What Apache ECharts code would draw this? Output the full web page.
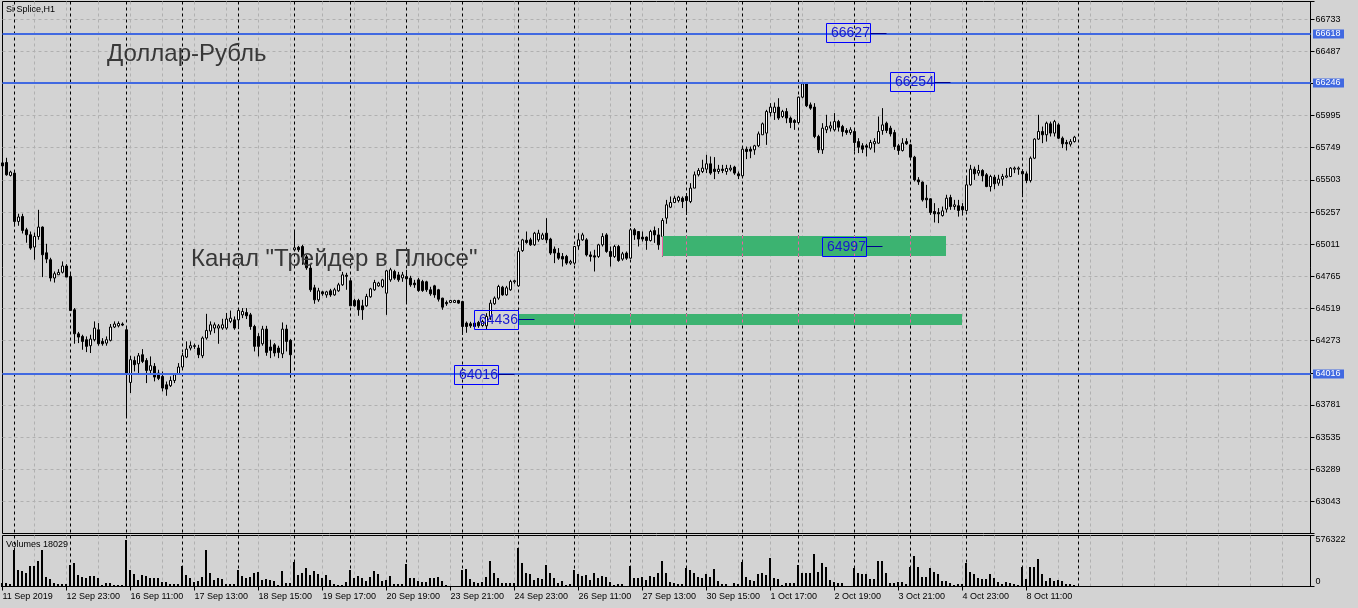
<!DOCTYPE html>
<html>
<head>
<meta charset="utf-8">
<title>Si Splice,H1</title>
<script src="https://cdn.jsdelivr.net/npm/echarts@6.0.0/dist/echarts.min.js"></script>
<style>
html,body{margin:0;padding:0;background:#d3d3d3;overflow:hidden;}
#chart{width:1358px;height:608px;}
</style>
</head>
<body>
<div id="chart"></div>
<script>
// ---------------- data ----------------
const sessionDays = ['11 Sep','12 Sep','13 Sep','16 Sep','17 Sep','18 Sep','19 Sep','20 Sep','23 Sep','24 Sep','25 Sep',
  '26 Sep','27 Sep','30 Sep','1 Oct','2 Oct','3 Oct','4 Oct','7 Oct','8 Oct','9 Oct','10 Oct','11 Oct','14 Oct','15 Oct'];
const firstSessionHours = [21,22,23];
const sessionHours = [10,11,12,13,14,15,16,17,18,19,20,21,22,23];
const firstDateLabel = '11 Sep 2019';

// [open, close, low, high]
const ohlc = [
[65633,65610,65603,65641],[65636,65542,65535,65672],[65537,65563,65529,65573],[65555,65185,65147,65560],
[65185,65219,65152,65244],[65223,65116,65093,65244],[65121,65083,65022,65136],[65083,64981,64968,65108],
[64989,65070,64892,65100],[65070,65142,65045,65274],[65142,64930,64759,65147],[64945,64897,64866,65014],
[64892,64752,64726,64907],[64752,64785,64717,64802],[64777,64795,64777,64820],[64796,64844,64787,64879],
[64844,64759,64759,64858],[64764,64503,64503,64782],[64509,64325,64249,64522],[64325,64300,64254,64340],
[64305,64267,64203,64318],[64280,64229,64185,64305],[64234,64285,64178,64318],[64280,64369,64267,64420],
[64356,64249,64234,64407],[64267,64249,64234,64292],[64254,64280,64234,64305],[64275,64377,64267,64400],
[64377,64400,64369,64420],[64386,64404,64374,64420],[64400,64392,64384,64412],[64356,64024,63682,64369],
[63953,64127,63872,64157],[64121,64089,64037,64152],[64096,64157,64024,64178],[64165,64114,64101,64208],
[64121,64045,63948,64139],[64045,64081,64024,64152],[64076,63994,63961,64101],[64024,63984,63971,64050],
[63999,63910,63884,64037],[63935,63902,63851,63960],[63928,63968,63918,63999],[63968,64012,63948,64024],
[64019,64071,64012,64101],[64071,64157,64050,64178],[64147,64208,64139,64267],[64216,64234,64198,64267],
[64234,64229,64210,64250],[64216,64165,64139,64241],[64157,64293,64139,64305],[64293,64351,64280,64478],
[64346,64394,64318,64420],[64369,64394,64330,64412],[64369,64386,64249,64400],[64369,64394,64356,64440],
[64369,64438,64356,64485],[64420,64445,64407,64503],[64432,64369,64356,64458],[64432,64503,64361,64522],
[64470,64496,64445,64522],[64488,64463,64438,64522],[64470,64381,64356,64485],[64381,64229,64190,64394],
[64305,64229,64152,64330],[64249,64361,64234,64386],[64361,64183,64157,64386],[64224,64198,64139,64280],
[64241,64178,64152,64254],[64216,64183,64139,64234],[64172,64361,64139,64412],[64361,64267,64190,64394],
[64275,64165,63989,64285],[64968,64983,64955,65121],[64987,64968,64952,64998],[64993,64912,64853,65006],
[64914,64830,64815,64929],[64828,64662,64646,64853],[64677,64585,64555,64700],[64585,64654,64570,64677],
[64646,64631,64616,64654],[64623,64646,64601,64654],[64654,64623,64608,64669],[64623,64662,64616,64677],
[64654,64700,64646,64715],[64700,64776,64692,64799],[64773,64765,64662,64792],[64731,64539,64539,64738],
[64580,64539,64532,64593],[64580,64509,64463,64593],[64539,64509,64432,64585],[64539,64611,64532,64631],
[64608,64669,64601,64677],[64662,64718,64654,64738],[64692,64713,64685,64723],[64687,64738,64677,64746],
[64636,64807,64470,64815],[64738,64815,64723,64830],[64802,64751,64738,64815],[64776,64738,64723,64799],
[64753,64776,64723,64799],[64763,64746,64562,64815],[64751,64700,64685,64769],[64713,64700,64677,64738],
[64738,64656,64646,64753],[64725,64656,64646,64738],[64723,64662,64646,64731],[64662,64631,64616,64685],
[64692,64623,64601,64700],[64662,64590,64572,64669],[64598,64529,64509,64601],[64565,64555,64539,64580],
[64565,64580,64562,64585],[64565,64580,64562,64585],[64580,64560,64555,64585],[64572,64381,64317,64578],
[64407,64381,64333,64419],[64402,64386,64371,64417],[64407,64381,64379,64417],[64412,64386,64371,64424],
[64389,64419,64379,64432],[64386,64458,64356,64483],[64458,64560,64432,64585],[64555,64598,64547,64611],
[64598,64687,64585,64700],[64682,64623,64616,64692],[64623,64677,64616,64692],[64662,64725,64654,64738],
[64723,64731,64708,64738],[64692,64955,64685,64968],[64962,65044,64952,65052],[65041,65024,65014,65108],
[65044,65006,64998,65060],[65006,65095,64998,65105],[65044,65095,65029,65121],[65050,65082,65044,65098],
[65095,65044,65019,65210],[65050,64943,64929,65060],[64973,64943,64866,64993],[64943,64904,64891,64981],
[64917,64897,64840,64943],[64917,64866,64853,64929],[64866,64878,64853,64891],[64866,64993,64853,64993],
[64998,65044,64968,65095],[65044,65082,65037,65098],[65044,64929,64917,65057],[64929,64917,64878,64955],
[64922,64912,64802,64968],[64917,65006,64906,65014],[65006,65070,64993,65095],[65082,64955,64945,65095],
[64955,64917,64840,64993],[64917,64993,64906,65006],[64993,64886,64876,65006],[64897,64937,64884,64952],
[64943,64904,64891,64955],[64904,65121,64899,65134],[65121,65082,65044,65134],[65108,65050,64993,65108],
[65065,65050,65031,65108],[65065,65039,64968,65070],[65039,65108,65031,65121],[65115,65082,65021,65146],
[65082,65006,64968,65134],[65070,65192,64917,65210],[65210,65312,65167,65350],[65294,65330,65287,65376],
[65330,65363,65325,65381],[65345,65371,65330,65381],[65363,65337,65287,65376],[65376,65345,65235,65402],
[65337,65440,65325,65478],[65440,65542,65440,65567],[65542,65575,65529,65593],[65567,65593,65555,65657],
[65585,65626,65555,65695],[65626,65555,65542,65682],[65585,65567,65509,65677],[65567,65585,65549,65618],
[65585,65575,65555,65618],[65567,65590,65542,65618],[65580,65593,65567,65618],[65601,65555,65542,65611],
[65549,65534,65509,65567],[65534,65738,65529,65746],[65738,65720,65662,65758],[65738,65723,65669,65758],
[65733,65764,65695,65771],[65764,65855,65754,65873],[65848,65932,65848,65942],[65861,66026,65771,66039],
[66018,66060,65988,66090],[66018,66060,65962,66095],[66060,65976,65962,66128],[65988,66026,65976,66039],
[66026,65976,65937,66052],[65976,65942,65899,65988],[65957,65942,65886,65968],[65942,66136,65937,66141],
[66136,66238,66128,66243],[66238,66070,66060,66243],[66077,66052,66039,66095],[66060,65835,65822,66090],
[65835,65733,65708,65848],[65733,65899,65702,65937],[65886,65911,65861,66001],[65899,65917,65873,65949],
[65886,65949,65873,66014],[65949,65906,65873,65962],[65911,65873,65835,65924],[65881,65865,65848,65899],
[65865,65886,65848,65906],[65873,65789,65720,65886],[65796,65753,65708,65822],[65764,65738,65708,65784],
[65764,65753,65682,65779],[65746,65789,65733,65809],[65779,65796,65712,65822],[65784,65873,65779,65988],
[65881,65924,65848,66052],[65937,65881,65861,65949],[65899,65855,65835,65917],[65865,65758,65733,65886],
[65764,65728,65695,65779],[65728,65784,65720,65822],[65796,65779,65771,65822],[65771,65677,65669,65779],
[65677,65503,65491,65687],[65503,65488,65465,65524],[65486,65350,65337,65491],[65363,65350,65287,65465],
[65358,65253,65235,65363],[65261,65243,65177,65325],[65253,65243,65172,65287],[65230,65266,65222,65299],
[65279,65363,65253,65389],[65368,65299,65274,65389],[65299,65312,65274,65350],[65305,65269,65222,65350],
[65299,65274,65230,65325],[65269,65465,65261,65534],[65465,65585,65458,65618],[65585,65549,65503,65605],
[65555,65575,65534,65618],[65575,65534,65491,65585],[65542,65452,65447,65555],[65452,65529,65414,65542],
[65524,65473,65432,65542],[65478,65509,65458,65542],[65509,65529,65458,65549],[65524,65534,65516,65593],
[65529,65593,65524,65601],[65585,65593,65555,65605],[65585,65593,65542,65605],[65567,65549,65371,65585],
[65549,65498,65478,65567],[65498,65669,65483,65682],[65669,65815,65662,65822],[65815,65873,65809,66001],
[65873,65848,65784,65911],[65848,65937,65796,65949],[65932,65861,65835,65949],[65861,65949,65835,65962],
[65924,65822,65815,65937],[65822,65779,65746,65835],[65789,65779,65728,65809],[65776,65796,65758,65815],
[65796,65830,65789,65840]
];

const volumes = [
38000,45200,26400,414400,188400,180800,150700,233600,233600,290100,
414400,113000,86600,45200,30100,30100,30100,244900,271200,131800,
113000,101700,120500,120500,101700,18800,45200,37700,18800,18800,
18800,527400,188400,139400,75300,131800,120500,101700,101700,101700,
56500,56500,26400,26400,26400,233600,131800,94200,56500,67800,
113000,414400,150700,75300,94200,82900,30100,30100,30100,188400,
120500,94200,113000,150700,165700,75300,90400,75300,67800,18800,
177000,37700,37700,282500,131800,150700,207200,131800,177000,139400,
94200,131800,75300,30100,18800,18800,52700,188400,94200,120500,
94200,67800,113000,177000,139400,67800,75300,120500,26400,26400,
26400,256200,94200,94200,67800,56500,56500,101700,94200,109200,
64000,18800,7500,7500,7500,188400,199700,86600,56500,45200,
56500,113000,290100,158200,101700,37700,45200,37700,45200,433200,
271200,158200,143100,75300,94200,86600,244900,158200,94200,37700,
67800,18800,26400,188400,143100,124300,131800,75300,158200,94200,
120500,105500,56500,18800,30100,26400,11300,233600,101700,101700,
113000,75300,124300,105500,158200,293800,158200,49000,37700,30100,
30100,214700,188400,158200,105500,101700,143100,113000,199700,64000,
30100,30100,11300,45200,26400,275000,113000,75300,67800,143100,
158200,131800,327700,94200,86600,18800,37700,37700,37700,244900,
158200,150700,150700,369200,169500,271200,226000,75300,49000,45200,
37700,11300,11300,214700,150700,143100,143100,86600,86600,290100,
290100,158200,45200,37700,49000,56500,30100,226000,346600,218500,
113000,105500,207200,162000,139400,64000,64000,45200,18800,26400,
30100,271200,162000,139400,94200,82900,86600,143100,94200,49000,
30100,49000,37700,30100,18800,226000,86600,218500,218500,308900,
143100,67800,94200,64000,75300,64000,30100,30100,18029
];

const priceTickLabels = [63043,63289,63535,63781,64273,64519,64765,65011,65257,65503,65749,65995,66487,66733];
const priceAxisMin = 62797, priceAxisMax = 66868, priceStep = 246;
const volumeAxisMax = 576322;

const separatorBars = [3,17,31,45,59,73,87,101,115,129,143,157,171,185,199,213,227,241,255,269];
const levelPrices = [66618, 66246, 64016];
const tagPrices = [66627, 66254, 64997, 64436, 64016];
const tagBars = [217, 233, 216, 129, 124];
const zoneBars = [[165, 236], [129, 240]];
const zonePrices = [[64922, 65070], [64396, 64478]];

const titleText = 'Si Splice,H1';
const volumeText = 'Volumes 18029';
const noteTexts = ['Доллар-Рубль', 'Канал "Трейдер в Плюсе"'];

// ---------------- chart ----------------
const TOTAL_SLOTS = 328;
const categories = [];
sessionDays.forEach((d, k) => {
  (k === 0 ? firstSessionHours : sessionHours).forEach(h => categories.push(d + ' ' + h + ':00'));
});
categories.length = TOTAL_SLOTS;

const FONT = '"Liberation Sans", Arial, sans-serif';
const GRID_GRAY = '#b0b0b0';
const BG = '#d3d3d3';
const lastBar = ohlc.length - 1;
const labelEvery = (i) => i % 16 === 0 && i <= lastBar;
const gridEvery = (i) => i > 0 && i % 8 === 0;

function renderSeparator(params, api) {
  const x = api.coord([api.value(0), api.value(1)])[0];
  const cs = params.coordSys;
  return { type: 'line', silent: true,
    shape: { x1: x, y1: cs.y, x2: x, y2: cs.y + cs.height },
    style: { stroke: '#000', lineWidth: 1, lineDash: [3, 3] } };
}

function renderVolume(params, api) {
  const i = api.value(0), v = api.value(1);
  const top = api.coord([i, v]), base = api.coord([i, 0]);
  const x = Math.floor(top[0]) - 1;
  const y0 = Math.round(top[1]), y1 = Math.round(base[1]);
  return { type: 'rect', silent: true,
    shape: { x: x, y: y0, width: 2, height: Math.max(0, y1 - y0) },
    style: { fill: '#000' } };
}

function renderZone(params, api) {
  const k = params.dataIndex;
  const b0 = zoneBars[k][0], b1 = zoneBars[k][1];
  const pLow = zonePrices[k][0], pHigh = zonePrices[k][1];
  const tl = api.coord([b0, pHigh]), br = api.coord([b1, pLow]);
  const x0 = Math.floor(tl[0]), x1 = Math.floor(br[0]);
  const y0 = Math.round(tl[1]), y1 = Math.round(br[1]);
  const cs = params.coordSys;
  const children = [{ type: 'rect', shape: { x: x0, y: y0, width: x1 - x0, height: y1 - y0 }, style: { fill: '#3cb371' } }];
  separatorBars.forEach(s => {
    if (s > b0 && s < b1) {
      const x = api.coord([s, pLow])[0];
      children.push({ type: 'line', shape: { x1: x, y1: y0, x2: x, y2: y1 },
        style: { stroke: '#ef60a2', lineWidth: 1, lineDash: [3, 3], lineDashOffset: (y0 - cs.y) % 6 } });
    }
  });
  for (let b = b0; b <= b1 && b < ohlc.length; b++) {
    const lo = Math.max(ohlc[b][2], pLow), hi = Math.min(ohlc[b][3], pHigh);
    if (lo < hi) {
      const x = api.coord([b, lo])[0];
      children.push({ type: 'line', shape: { x1: x, y1: Math.max(y0, api.coord([b, hi])[1]), x2: x, y2: Math.min(y1, api.coord([b, lo])[1]) },
        style: { stroke: '#ef60a2', lineWidth: 1 } });
    }
  }
  return { type: 'group', silent: true, children };
}

function renderLevel(params, api) {
  const p = api.value(1);
  const y = Math.round(api.coord([0, p])[1]);
  const cs = params.coordSys;
  const xr = cs.x + cs.width;
  return { type: 'group', silent: true, children: [
    { type: 'line', shape: { x1: cs.x, y1: y, x2: xr, y2: y }, style: { stroke: '#4169e1', lineWidth: 2 } },
    { type: 'rect', shape: { x: xr + 2.5, y: y - 4.5, width: 31, height: 9 }, style: { fill: '#4169e1' } },
    { type: 'text', x: xr + 5, y: y, style: { text: String(p), fill: '#ffffff', font: '9px ' + FONT, verticalAlign: 'middle', align: 'left' } }
  ] };
}

function renderTag(params, api) {
  const b = api.value(0), p = api.value(1);
  const pt = api.coord([b, p]);
  const xr = Math.floor(pt[0]) + 0.5;
  const yc = pt[1];
  const yt = Math.round(yc - 9.5) + 0.5;
  const yl = Math.round(yc) + 0.5;
  return { type: 'group', silent: true, children: [
    { type: 'rect', shape: { x: xr - 44, y: yt, width: 44, height: 19 }, style: { fill: 'none', stroke: '#0000ff', lineWidth: 1 } },
    { type: 'line', shape: { x1: xr, y1: yl, x2: xr + 16, y2: yl }, style: { stroke: '#00008b', lineWidth: 1 } },
    { type: 'text', x: xr - 39.5, y: yt + 9.5, style: { text: String(p), fill: '#1818d0', font: '14px ' + FONT, verticalAlign: 'middle', align: 'left' } }
  ] };
}

const chart = echarts.init(document.getElementById('chart'), null, { renderer: 'canvas' });

const option = {
  backgroundColor: BG,
  animation: false,
  textStyle: { fontFamily: FONT },
  grid: [
    { left: 2.5, right: 47.5, top: 1.5, height: 532, show: true, borderColor: '#000', borderWidth: 1, backgroundColor: 'transparent', containLabel: false, outerBoundsMode: 'none' },
    { left: 2.5, right: 47.5, top: 535.5, height: 51, show: true, borderColor: '#000', borderWidth: 1, backgroundColor: 'transparent', containLabel: false, outerBoundsMode: 'none' }
  ],
  xAxis: [
    { type: 'category', gridIndex: 0, data: categories, boundaryGap: false,
      axisLine: { show: false }, axisTick: { show: false }, axisLabel: { show: false },
      splitLine: { show: true, interval: gridEvery, lineStyle: { color: GRID_GRAY, width: 1, type: [3, 3] } } },
    { type: 'category', gridIndex: 1, data: categories, boundaryGap: false,
      axisLine: { show: true, onZero: false, lineStyle: { color: '#000', width: 1 } },
      axisTick: { show: true, interval: labelEvery, length: 4, lineStyle: { color: '#000', width: 1 } },
      axisLabel: { show: true, interval: labelEvery, formatter: (v, i) => i === 0 ? firstDateLabel : v,
        align: 'left', margin: 6, fontFamily: FONT, fontSize: 9, color: '#000', hideOverlap: false },
      splitLine: { show: true, interval: gridEvery, lineStyle: { color: GRID_GRAY, width: 1, type: [3, 3] } } }
  ],
  yAxis: [
    { type: 'value', gridIndex: 0, position: 'right', min: priceAxisMin, max: priceAxisMax, interval: priceStep,
      axisLine: { show: true, lineStyle: { color: '#000', width: 1 } },
      axisTick: { show: true, length: 4, lineStyle: { color: '#000', width: 1 } },
      axisLabel: { show: true, margin: 5, fontFamily: FONT, fontSize: 9, color: '#000', hideOverlap: false,
        showMinLabel: true, showMaxLabel: true,
        formatter: v => { const r = Math.round(v); return priceTickLabels.indexOf(r) >= 0 ? String(r) : ''; } },
      splitLine: { show: true, showMinLine: false, showMaxLine: false, lineStyle: { color: GRID_GRAY, width: 1, type: [3, 3] } } },
    { type: 'value', gridIndex: 1, position: 'right', min: 0, max: volumeAxisMax, interval: volumeAxisMax,
      axisLine: { show: true, lineStyle: { color: '#000', width: 1 } },
      axisTick: { show: true, length: 4, lineStyle: { color: '#000', width: 1 } },
      axisLabel: { show: true, margin: 5, fontFamily: FONT, fontSize: 9, color: '#000', hideOverlap: false,
        showMinLabel: true, showMaxLabel: true,
        formatter: v => v > 0 ? '{t|' + v + '}' : '{b|' + v + '}',
        rich: { t: { padding: [9, 0, 0, 0], fontFamily: FONT, fontSize: 9, color: '#000' },
                b: { padding: [0, 0, 9, 0], fontFamily: FONT, fontSize: 9, color: '#000' } } },
      splitLine: { show: false } }
  ],
  series: [
    { type: 'custom', name: 'sepMain', xAxisIndex: 0, yAxisIndex: 0, z: 1, silent: true,
      data: separatorBars.map(b => [b, priceAxisMin]), renderItem: renderSeparator },
    { type: 'custom', name: 'sepVol', xAxisIndex: 1, yAxisIndex: 1, z: 1, silent: true,
      data: separatorBars.map(b => [b, 0]), renderItem: renderSeparator },
    { type: 'candlestick', name: 'Si Splice', xAxisIndex: 0, yAxisIndex: 0, z: 3, barWidth: 2, silent: true,
      data: ohlc,
      itemStyle: { color: '#ffffff', color0: '#000000', borderColor: '#000000', borderColor0: '#000000', borderColorDoji: '#000000', borderWidth: 1 } },
    { type: 'custom', name: 'Volumes', xAxisIndex: 1, yAxisIndex: 1, z: 3, silent: true,
      data: volumes.map((v, i) => [i, v]), renderItem: renderVolume },
    { type: 'custom', name: 'zones', xAxisIndex: 0, yAxisIndex: 0, z: 4, silent: true,
      data: zoneBars.map((b, i) => [b[0], zonePrices[i][0]]), renderItem: renderZone },
    { type: 'custom', name: 'levels', xAxisIndex: 0, yAxisIndex: 0, z: 5, silent: true,
      data: levelPrices.map(p => [0, p]), renderItem: renderLevel },
    { type: 'custom', name: 'tags', xAxisIndex: 0, yAxisIndex: 0, z: 6, silent: true,
      data: tagBars.map((b, i) => [b, tagPrices[i]]), renderItem: renderTag }
  ],
  graphic: [
    { type: 'text', x: 6, y: 10, z: 100, silent: true, style: { text: titleText, font: '9px ' + FONT, fill: '#000', verticalAlign: 'middle' } },
    { type: 'text', x: 6, y: 545, z: 100, silent: true, style: { text: volumeText, font: '9px ' + FONT, fill: '#000', verticalAlign: 'middle' } },
    { type: 'text', x: 107, y: 54.5, z: 100, silent: true, style: { text: noteTexts[0], font: '24px ' + FONT, fill: '#383838', verticalAlign: 'middle' } },
    { type: 'text', x: 191, y: 259, z: 100, silent: true, style: { text: noteTexts[1], font: '24px ' + FONT, fill: '#383838', verticalAlign: 'middle' } }
  ]
};
chart.setOption(option);
</script>
</body>
</html>
